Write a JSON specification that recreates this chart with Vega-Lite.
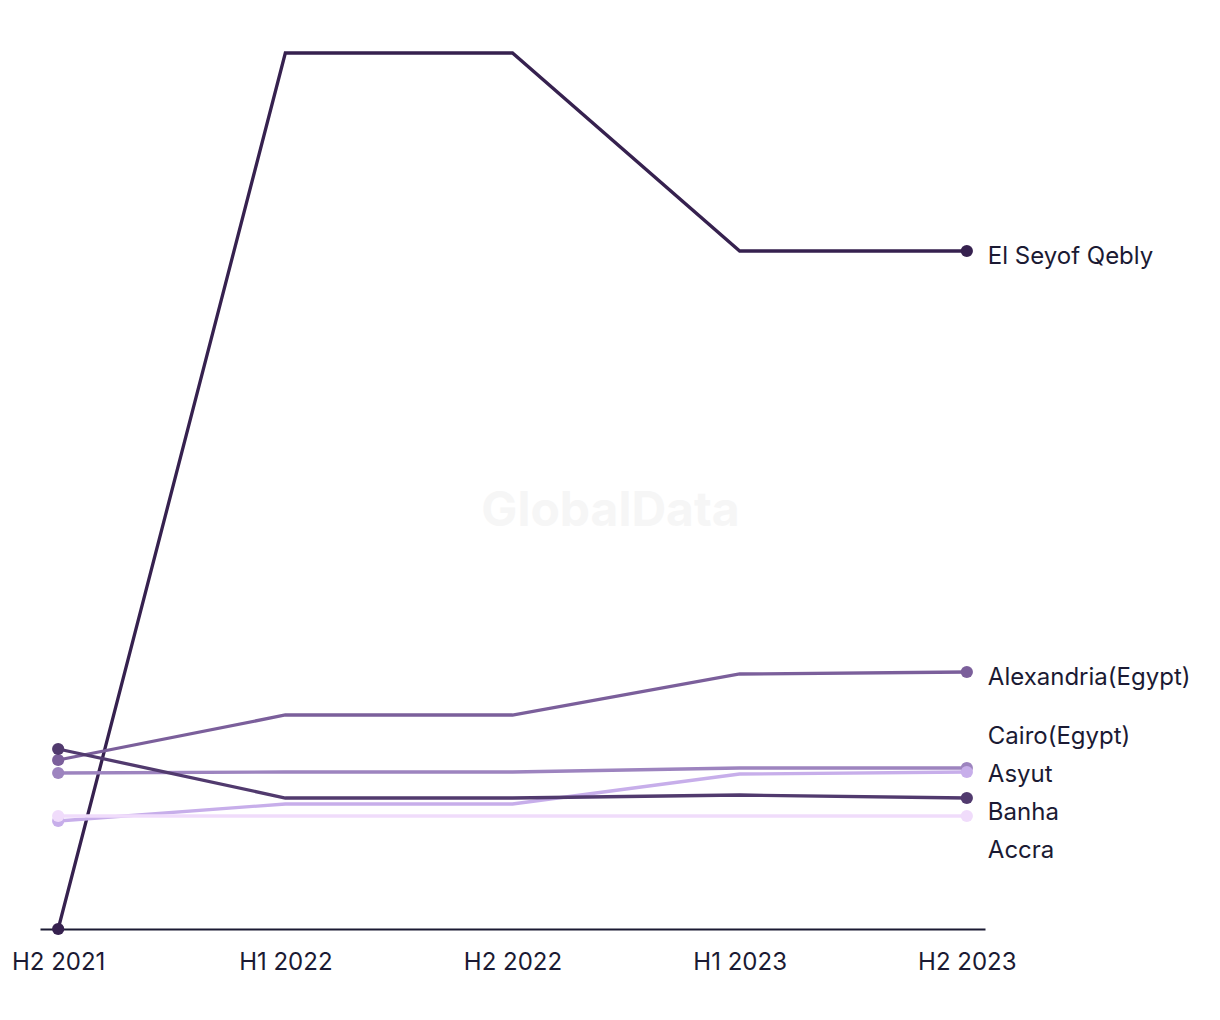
{
  "$schema": "https://vega.github.io/schema/vega-lite/v6.json",
  "width": 945,
  "height": 876,
  "autosize": {"type": "none"},
  "padding": {"left": 40, "top": 53, "right": 235, "bottom": 91},
  "background": "white",
  "config": {"view": {"stroke": null}, "font": "Inter"},
  "data": {
    "values": [
      {"period": "H2 2021", "city": "El Seyof Qebly", "value": 0},
      {"period": "H1 2022", "city": "El Seyof Qebly", "value": 876},
      {"period": "H2 2022", "city": "El Seyof Qebly", "value": 876},
      {"period": "H1 2023", "city": "El Seyof Qebly", "value": 678},
      {"period": "H2 2023", "city": "El Seyof Qebly", "value": 678},
      {"period": "H2 2021", "city": "Alexandria(Egypt)", "value": 169},
      {"period": "H1 2022", "city": "Alexandria(Egypt)", "value": 214},
      {"period": "H2 2022", "city": "Alexandria(Egypt)", "value": 214},
      {"period": "H1 2023", "city": "Alexandria(Egypt)", "value": 255},
      {"period": "H2 2023", "city": "Alexandria(Egypt)", "value": 257},
      {"period": "H2 2021", "city": "Cairo(Egypt)", "value": 156},
      {"period": "H1 2022", "city": "Cairo(Egypt)", "value": 157},
      {"period": "H2 2022", "city": "Cairo(Egypt)", "value": 157},
      {"period": "H1 2023", "city": "Cairo(Egypt)", "value": 161},
      {"period": "H2 2023", "city": "Cairo(Egypt)", "value": 161},
      {"period": "H2 2021", "city": "Asyut", "value": 108},
      {"period": "H1 2022", "city": "Asyut", "value": 125},
      {"period": "H2 2022", "city": "Asyut", "value": 125},
      {"period": "H1 2023", "city": "Asyut", "value": 155},
      {"period": "H2 2023", "city": "Asyut", "value": 157},
      {"period": "H2 2021", "city": "Banha", "value": 180},
      {"period": "H1 2022", "city": "Banha", "value": 131},
      {"period": "H2 2022", "city": "Banha", "value": 131},
      {"period": "H1 2023", "city": "Banha", "value": 134},
      {"period": "H2 2023", "city": "Banha", "value": 131},
      {"period": "H2 2021", "city": "Accra", "value": 113},
      {"period": "H1 2022", "city": "Accra", "value": 113},
      {"period": "H2 2022", "city": "Accra", "value": 113},
      {"period": "H1 2023", "city": "Accra", "value": 113},
      {"period": "H2 2023", "city": "Accra", "value": 113}
    ]
  },
  "encoding": {
    "x": {
      "field": "period", "type": "ordinal", "sort": null,
      "scale": {"type": "point", "padding": 0.08, "domain": ["H2 2021", "H1 2022", "H2 2022", "H1 2023", "H2 2023"]},
      "axis": {
        "title": null, "labelAngle": 0, "ticks": false, "grid": false,
        "domainColor": "#1b1a33", "domainWidth": 2,
        "labelFont": "Inter", "labelFontSize": 24, "labelColor": "#1b1a33",
        "labelPadding": 21
      }
    },
    "y": {
      "field": "value", "type": "quantitative",
      "scale": {"domain": [0, 876], "nice": false, "zero": true},
      "axis": null
    },
    "color": {
      "field": "city", "type": "nominal", "legend": null,
      "scale": {
        "domain": ["El Seyof Qebly", "Alexandria(Egypt)", "Cairo(Egypt)", "Asyut", "Banha", "Accra"],
        "range": ["#36214f", "#7b5f9b", "#9d84bf", "#c7aeea", "#513a6e", "#f0dcfb"]
      }
    }
  },
  "layer": [
    {
      "data": {"values": [{"t": "GlobalData", "p": "H2 2022", "v": 417}]},
      "mark": {"type": "text", "fontSize": 48, "fontWeight": "bold", "color": "#f6f6f6", "dx": 98, "baseline": "middle", "font": "Inter"},
      "encoding": {
        "x": {"field": "p", "type": "ordinal"},
        "y": {"field": "v", "type": "quantitative"},
        "text": {"field": "t"},
        "color": null
      }
    },
    {
      "mark": {"type": "line", "strokeWidth": 3.3},
      "encoding": {"detail": {"field": "city"}}
    },
    {
      "transform": [{"filter": "datum.period === 'H2 2021' || datum.period === 'H2 2023'"}],
      "mark": {"type": "circle", "size": 150, "opacity": 1}
    },
    {
      "transform": [{"filter": "datum.period === 'H2 2023' && (datum.city === 'El Seyof Qebly' || datum.city === 'Alexandria(Egypt)')"}],
      "mark": {"type": "text", "align": "left", "baseline": "middle", "dx": 21, "dy": 6, "fontSize": 24, "color": "#1b1a33", "font": "Inter"},
      "encoding": {"text": {"field": "city"}, "color": null}
    },
    {
      "transform": [{"filter": "datum.period === 'H2 2023' && datum.city === 'Cairo(Egypt)'"}],
      "mark": {"type": "text", "align": "left", "baseline": "middle", "dx": 21, "dy": -31, "fontSize": 24, "color": "#1b1a33", "font": "Inter"},
      "encoding": {"text": {"field": "city"}, "color": null}
    },
    {
      "transform": [{"filter": "datum.period === 'H2 2023' && datum.city === 'Asyut'"}],
      "mark": {"type": "text", "align": "left", "baseline": "middle", "dx": 21, "dy": 3, "fontSize": 24, "color": "#1b1a33", "font": "Inter"},
      "encoding": {"text": {"field": "city"}, "color": null}
    },
    {
      "transform": [{"filter": "datum.period === 'H2 2023' && datum.city === 'Banha'"}],
      "mark": {"type": "text", "align": "left", "baseline": "middle", "dx": 21, "dy": 15, "fontSize": 24, "color": "#1b1a33", "font": "Inter"},
      "encoding": {"text": {"field": "city"}, "color": null}
    },
    {
      "transform": [{"filter": "datum.period === 'H2 2023' && datum.city === 'Accra'"}],
      "mark": {"type": "text", "align": "left", "baseline": "middle", "dx": 21, "dy": 35, "fontSize": 24, "color": "#1b1a33", "font": "Inter"},
      "encoding": {"text": {"field": "city"}, "color": null}
    }
  ]
}
